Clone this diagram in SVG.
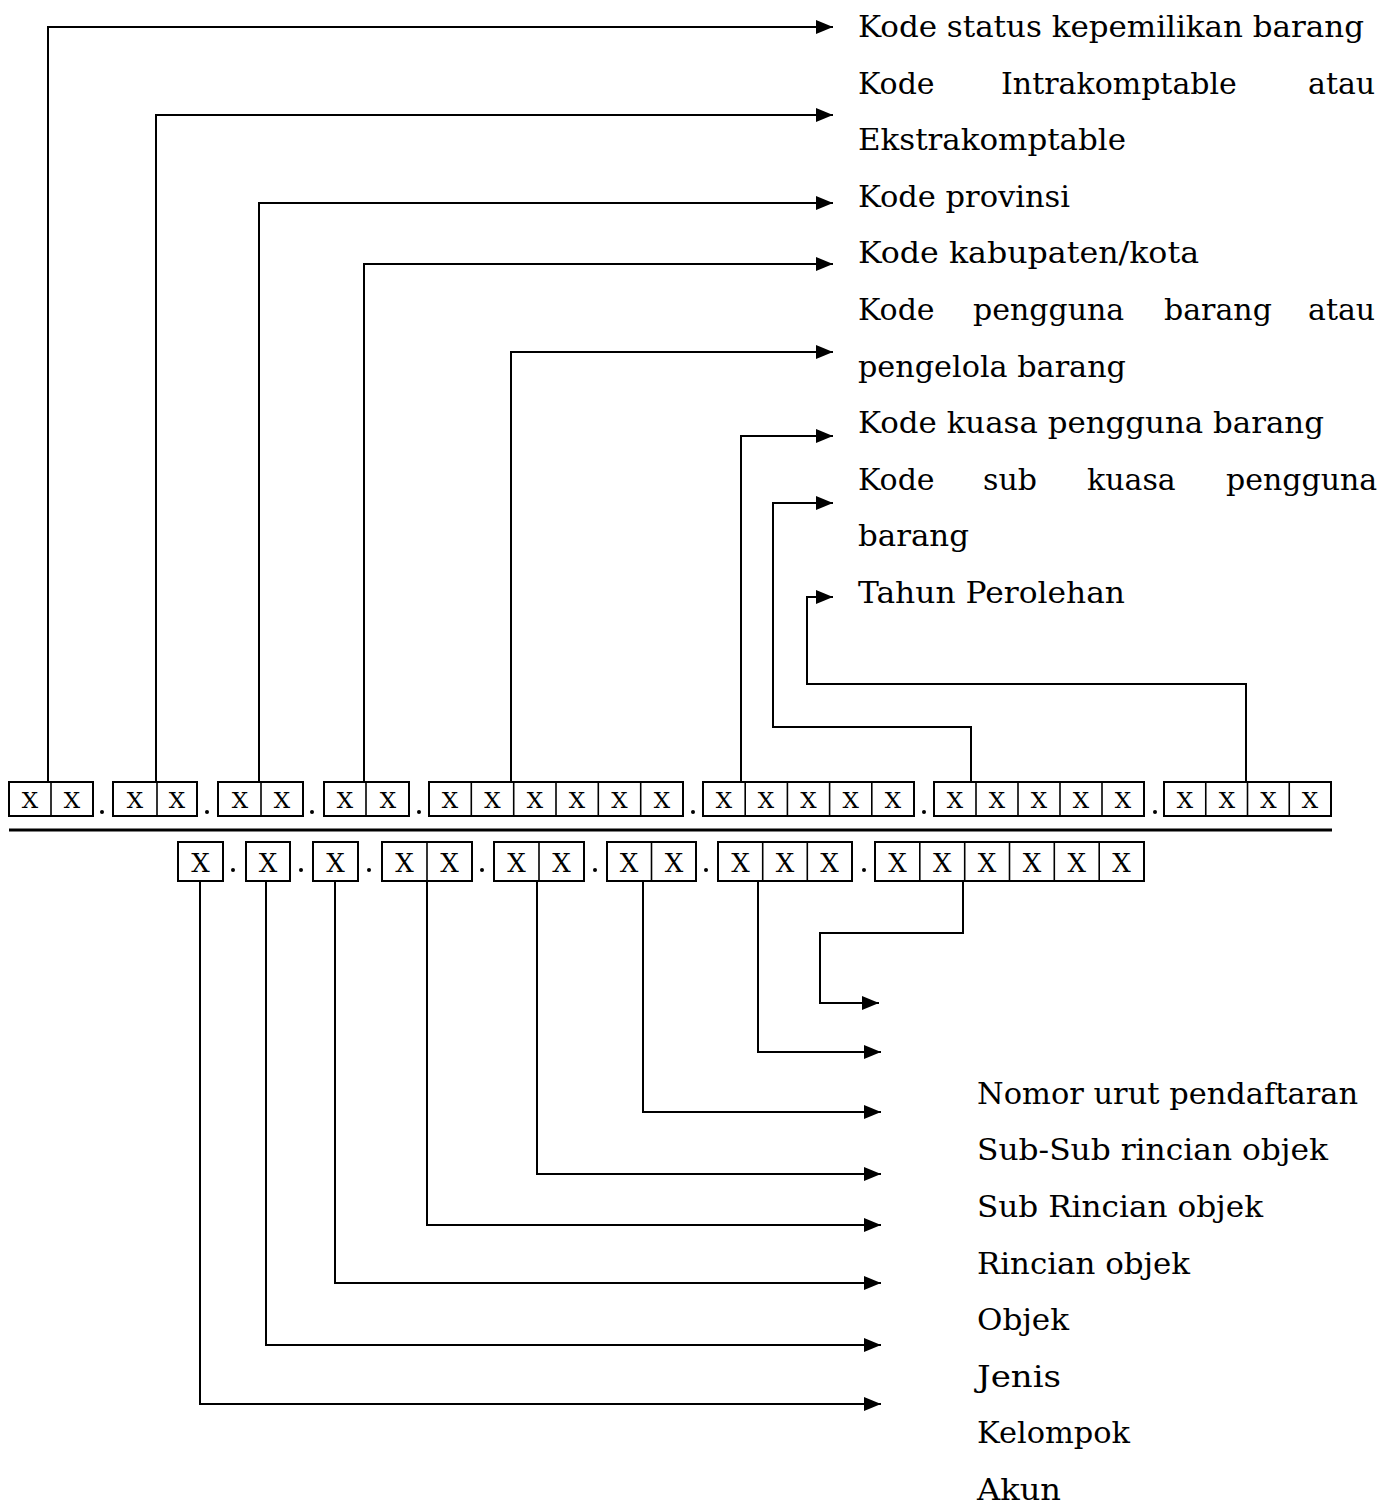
<svg xmlns="http://www.w3.org/2000/svg" width="1398" height="1504" viewBox="0 0 1398 1504">
<style>
.bg{fill:#ffffff}
.box{fill:none;stroke:#000;stroke-width:2}
.div{stroke:#000;stroke-width:1.6}
.xt{font-family:"DejaVu Serif","Liberation Serif",serif;font-size:23px;fill:#000;text-anchor:middle}
.xb{font-family:"DejaVu Serif","Liberation Serif",serif;font-size:26px;fill:#000;text-anchor:middle}
.lbl{font-family:"DejaVu Serif","Liberation Serif",serif;font-size:30px;fill:#000}
.con{fill:none;stroke:#000;stroke-width:2}
.sep{stroke:#000;stroke-width:3}
.dot{fill:#000}
</style>
<defs>
<marker id="arr" markerUnits="userSpaceOnUse" markerWidth="18" markerHeight="16" refX="17" refY="8" orient="auto">
<path d="M0,1 L17,8 L0,15 Z" fill="#000"/>
</marker>
</defs>
<rect class="bg" x="0" y="0" width="1398" height="1504"/>

<g id="top-code">
<g id="t1"><rect class="box" x="9" y="782" width="84" height="34"/><line class="div" x1="51" y1="782" x2="51" y2="816"/><text class="xt" x="30" y="808">X</text><text class="xt" x="72" y="808">X</text></g>
<circle class="dot" cx="102" cy="812" r="2"/>
<g id="t2"><rect class="box" x="113" y="782" width="84" height="34"/><line class="div" x1="157" y1="782" x2="157" y2="816"/><text class="xt" x="135" y="808">X</text><text class="xt" x="177" y="808">X</text></g>
<circle class="dot" cx="207" cy="812" r="2"/>
<g id="t3"><rect class="box" x="218" y="782" width="85" height="34"/><line class="div" x1="261" y1="782" x2="261" y2="816"/><text class="xt" x="240" y="808">X</text><text class="xt" x="282" y="808">X</text></g>
<circle class="dot" cx="312" cy="812" r="2"/>
<g id="t4"><rect class="box" x="324" y="782" width="85" height="34"/><line class="div" x1="366" y1="782" x2="366" y2="816"/><text class="xt" x="345" y="808">X</text><text class="xt" x="388" y="808">X</text></g>
<circle class="dot" cx="419" cy="812" r="2"/>
<g id="t5"><rect class="box" x="429" y="782" width="254" height="34"/>
<line class="div" x1="471.3" y1="782" x2="471.3" y2="816"/><line class="div" x1="513.7" y1="782" x2="513.7" y2="816"/><line class="div" x1="556" y1="782" x2="556" y2="816"/><line class="div" x1="598.3" y1="782" x2="598.3" y2="816"/><line class="div" x1="640.7" y1="782" x2="640.7" y2="816"/>
<text class="xt" x="450" y="808">X</text><text class="xt" x="492.5" y="808">X</text><text class="xt" x="535" y="808">X</text><text class="xt" x="577" y="808">X</text><text class="xt" x="619.5" y="808">X</text><text class="xt" x="662" y="808">X</text></g>
<circle class="dot" cx="693" cy="812" r="2"/>
<g id="t6"><rect class="box" x="703" y="782" width="211" height="34"/>
<line class="div" x1="745.2" y1="782" x2="745.2" y2="816"/><line class="div" x1="787.4" y1="782" x2="787.4" y2="816"/><line class="div" x1="829.6" y1="782" x2="829.6" y2="816"/><line class="div" x1="871.8" y1="782" x2="871.8" y2="816"/>
<text class="xt" x="724" y="808">X</text><text class="xt" x="766" y="808">X</text><text class="xt" x="808.5" y="808">X</text><text class="xt" x="850.7" y="808">X</text><text class="xt" x="893" y="808">X</text></g>
<circle class="dot" cx="924" cy="812" r="2"/>
<g id="t7"><rect class="box" x="934" y="782" width="210" height="34"/>
<line class="div" x1="976" y1="782" x2="976" y2="816"/><line class="div" x1="1018" y1="782" x2="1018" y2="816"/><line class="div" x1="1060" y1="782" x2="1060" y2="816"/><line class="div" x1="1102" y1="782" x2="1102" y2="816"/>
<text class="xt" x="955" y="808">X</text><text class="xt" x="997" y="808">X</text><text class="xt" x="1039" y="808">X</text><text class="xt" x="1081" y="808">X</text><text class="xt" x="1123" y="808">X</text></g>
<circle class="dot" cx="1155" cy="812" r="2"/>
<g id="t8"><rect class="box" x="1164" y="782" width="167" height="34"/>
<line class="div" x1="1205.75" y1="782" x2="1205.75" y2="816"/><line class="div" x1="1247.5" y1="782" x2="1247.5" y2="816"/><line class="div" x1="1289.25" y1="782" x2="1289.25" y2="816"/>
<text class="xt" x="1185" y="808">X</text><text class="xt" x="1227" y="808">X</text><text class="xt" x="1268.5" y="808">X</text><text class="xt" x="1310" y="808">X</text></g>
</g>

<line id="separator" class="sep" x1="9" y1="830" x2="1332" y2="830"/>

<g id="bottom-code">
<g id="b1"><rect class="box" x="178" y="842" width="45" height="39"/><text class="xb" x="200.5" y="872">X</text></g>
<circle class="dot" cx="233" cy="870" r="2"/>
<g id="b2"><rect class="box" x="246" y="842" width="44" height="39"/><text class="xb" x="268" y="872">X</text></g>
<circle class="dot" cx="301" cy="870" r="2"/>
<g id="b3"><rect class="box" x="313" y="842" width="45" height="39"/><text class="xb" x="335.5" y="872">X</text></g>
<circle class="dot" cx="369" cy="870" r="2"/>
<g id="b4"><rect class="box" x="382" y="842" width="90" height="39"/><line class="div" x1="427" y1="842" x2="427" y2="881"/><text class="xb" x="404.5" y="872">X</text><text class="xb" x="449.5" y="872">X</text></g>
<circle class="dot" cx="482" cy="870" r="2"/>
<g id="b5"><rect class="box" x="494" y="842" width="90" height="39"/><line class="div" x1="539" y1="842" x2="539" y2="881"/><text class="xb" x="516.5" y="872">X</text><text class="xb" x="561.5" y="872">X</text></g>
<circle class="dot" cx="595" cy="870" r="2"/>
<g id="b6"><rect class="box" x="607" y="842" width="89" height="39"/><line class="div" x1="651.5" y1="842" x2="651.5" y2="881"/><text class="xb" x="629" y="872">X</text><text class="xb" x="674" y="872">X</text></g>
<circle class="dot" cx="706" cy="870" r="2"/>
<g id="b7"><rect class="box" x="718" y="842" width="134" height="39"/><line class="div" x1="762.7" y1="842" x2="762.7" y2="881"/><line class="div" x1="807.3" y1="842" x2="807.3" y2="881"/><text class="xb" x="740.5" y="872">X</text><text class="xb" x="785" y="872">X</text><text class="xb" x="829.5" y="872">X</text></g>
<circle class="dot" cx="864" cy="870" r="2"/>
<g id="b8"><rect class="box" x="875" y="842" width="269" height="39"/>
<line class="div" x1="919.8" y1="842" x2="919.8" y2="881"/><line class="div" x1="964.7" y1="842" x2="964.7" y2="881"/><line class="div" x1="1009.5" y1="842" x2="1009.5" y2="881"/><line class="div" x1="1054.3" y1="842" x2="1054.3" y2="881"/><line class="div" x1="1099.2" y1="842" x2="1099.2" y2="881"/>
<text class="xb" x="897.4" y="872">X</text><text class="xb" x="942.3" y="872">X</text><text class="xb" x="987.1" y="872">X</text><text class="xb" x="1032" y="872">X</text><text class="xb" x="1076.8" y="872">X</text><text class="xb" x="1121.6" y="872">X</text></g>
</g>

<g id="connectors">
<path class="con" d="M48 782 V27 H833" marker-end="url(#arr)"/>
<path class="con" d="M156 782 V115 H833" marker-end="url(#arr)"/>
<path class="con" d="M259 782 V203 H833" marker-end="url(#arr)"/>
<path class="con" d="M364 782 V264 H833" marker-end="url(#arr)"/>
<path class="con" d="M511 782 V352 H833" marker-end="url(#arr)"/>
<path class="con" d="M741 782 V436 H833" marker-end="url(#arr)"/>
<path class="con" d="M971 782 V727 H773 V503 H833" marker-end="url(#arr)"/>
<path class="con" d="M1246 782 V684 H807 V597 H833" marker-end="url(#arr)"/>
<path class="con" d="M200 881 V1404 H881" marker-end="url(#arr)"/>
<path class="con" d="M266 881 V1345 H881" marker-end="url(#arr)"/>
<path class="con" d="M335 881 V1283 H881" marker-end="url(#arr)"/>
<path class="con" d="M427 881 V1225 H881" marker-end="url(#arr)"/>
<path class="con" d="M537 881 V1174 H881" marker-end="url(#arr)"/>
<path class="con" d="M643 881 V1112 H881" marker-end="url(#arr)"/>
<path class="con" d="M758 881 V1052 H881" marker-end="url(#arr)"/>
<path class="con" d="M963 881 V933 H820 V1003 H879" marker-end="url(#arr)"/>
</g>

<g id="top-labels">
<text class="lbl" x="858" y="37" textLength="506" lengthAdjust="spacingAndGlyphs">Kode status kepemilikan barang</text>
<text class="lbl" y="94"><tspan x="858">Kode</tspan> <tspan x="1001">Intrakomptable</tspan> <tspan x="1308">atau</tspan></text>
<text class="lbl" x="858" y="150" textLength="268" lengthAdjust="spacingAndGlyphs">Ekstrakomptable</text>
<text class="lbl" x="858" y="207" textLength="212" lengthAdjust="spacingAndGlyphs">Kode provinsi</text>
<text class="lbl" x="858" y="263" textLength="341" lengthAdjust="spacingAndGlyphs">Kode kabupaten/kota</text>
<text class="lbl" y="320"><tspan x="858">Kode</tspan> <tspan x="973">pengguna</tspan> <tspan x="1164">barang</tspan> <tspan x="1308">atau</tspan></text>
<text class="lbl" x="858" y="377" textLength="268" lengthAdjust="spacingAndGlyphs">pengelola barang</text>
<text class="lbl" x="858" y="433" textLength="466" lengthAdjust="spacingAndGlyphs">Kode kuasa pengguna barang</text>
<text class="lbl" y="490"><tspan x="858">Kode</tspan> <tspan x="983">sub</tspan> <tspan x="1087">kuasa</tspan> <tspan x="1226">pengguna</tspan></text>
<text class="lbl" x="858" y="546" textLength="111" lengthAdjust="spacingAndGlyphs">barang</text>
<text class="lbl" x="858" y="603" textLength="267" lengthAdjust="spacingAndGlyphs">Tahun Perolehan</text>
</g>

<g id="bottom-labels">
<text class="lbl" x="977" y="1104" textLength="381" lengthAdjust="spacingAndGlyphs">Nomor urut pendaftaran</text>
<text class="lbl" x="977" y="1160" textLength="351" lengthAdjust="spacingAndGlyphs">Sub-Sub rincian objek</text>
<text class="lbl" x="977" y="1217" textLength="286" lengthAdjust="spacingAndGlyphs">Sub Rincian objek</text>
<text class="lbl" x="977" y="1274" textLength="213" lengthAdjust="spacingAndGlyphs">Rincian objek</text>
<text class="lbl" x="977" y="1330" textLength="92" lengthAdjust="spacingAndGlyphs">Objek</text>
<text class="lbl" x="977" y="1387" textLength="84" lengthAdjust="spacingAndGlyphs">Jenis</text>
<text class="lbl" x="977" y="1443" textLength="153" lengthAdjust="spacingAndGlyphs">Kelompok</text>
<text class="lbl" x="977" y="1500" textLength="84" lengthAdjust="spacingAndGlyphs">Akun</text>
</g>
</svg>
